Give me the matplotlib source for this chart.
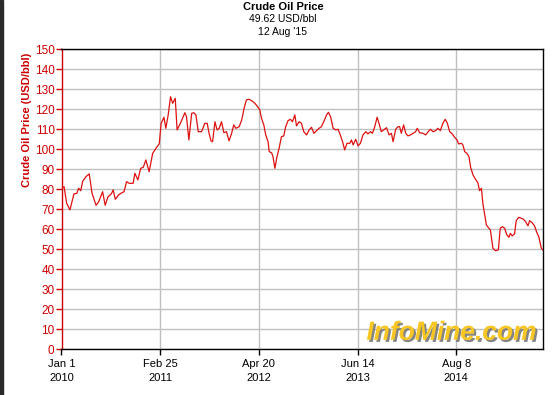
import numpy as np
import pandas as pd
import matplotlib
matplotlib.use("Agg")
import matplotlib.pyplot as plt
import matplotlib.patheffects as pe
from matplotlib.patches import Rectangle

# days since 1 Jan 2010 and price in USD/bbl
days = [0, 11, 22, 36, 53, 65, 73, 82, 90, 104, 118, 130, 147, 158, 175, 186, 198, 212, 220, 229,
        243, 257, 266, 277, 288, 305, 312, 325, 337, 348, 359, 373, 388, 405, 416, 424, 436, 444, 454, 464,
        473, 484, 492, 504, 515, 525, 532, 542, 554, 563, 572, 582, 596, 610, 620, 628, 636, 643, 653, 662,
        671, 681, 691, 702, 713, 724, 733, 742, 756, 767, 777, 787, 798, 809, 823, 832, 844, 851, 861, 869,
        879, 884, 894, 900, 908, 917, 926, 936, 946, 954, 964, 974, 983, 993, 1000, 1011, 1021, 1031, 1043, 1054,
        1064, 1074, 1085, 1096, 1106, 1116, 1128, 1136, 1145, 1156, 1167, 1177, 1184, 1196, 1205, 1215, 1227, 1234, 1241, 1252,
        1262, 1272, 1283, 1295, 1304, 1315, 1323, 1333, 1343, 1351, 1361, 1371, 1383, 1394, 1404, 1411, 1422, 1432, 1439, 1446,
        1456, 1465, 1474, 1485, 1496, 1507, 1514, 1524, 1538, 1550, 1560, 1570, 1581, 1592, 1602, 1612, 1623, 1633, 1642, 1652,
        1663, 1673, 1683, 1690, 1702, 1708, 1716, 1725, 1734, 1741, 1751, 1762, 1772, 1779, 1787, 1793, 1808, 1819, 1825, 1836,
        1847, 1859, 1867, 1876, 1886, 1895, 1904, 1910, 1918, 1928, 1935, 1946, 1957, 1966, 1975, 1985, 1992, 2003, 2013, 2023,
        2031, 2042, 2049]
price = [80.5, 81.3, 73.0, 69.7, 77.7, 78.0, 80.5, 79.3, 84.0, 86.3, 87.7, 78.0, 72.0, 73.7, 78.8, 72.0, 76.3, 77.7, 79.7, 75.0,
         77.2, 78.3, 78.8, 83.8, 83.0, 83.0, 88.0, 84.7, 90.5, 91.0, 94.7, 88.8, 98.0, 101.0, 102.7, 113.0, 116.0, 110.5, 117.2, 126.3,
         123.0, 125.5, 109.7, 112.5, 115.5, 118.3, 116.3, 104.7, 118.0, 118.3, 117.2, 108.8, 108.8, 113.0, 113.0, 108.0, 104.2, 103.8, 113.8, 109.7,
         110.5, 113.8, 108.3, 108.8, 104.2, 108.0, 112.2, 110.5, 111.3, 114.7, 120.5, 124.7, 125.0, 124.3, 123.0, 121.7, 119.7, 115.5, 112.2, 107.2,
         103.8, 98.8, 98.3, 96.3, 90.5, 96.3, 100.5, 106.3, 106.7, 111.3, 114.3, 115.0, 113.8, 117.2, 111.7, 113.8, 113.0, 108.8, 107.2, 109.7,
         111.0, 108.0, 109.3, 110.5, 111.3, 113.8, 117.2, 118.5, 116.3, 110.5, 109.7, 110.0, 108.0, 103.8, 99.7, 103.0, 103.0, 104.7, 102.2, 105.0,
         101.7, 103.0, 107.2, 108.8, 107.7, 108.8, 108.0, 111.3, 116.0, 113.0, 108.8, 109.7, 110.8, 107.2, 108.0, 103.8, 110.0, 111.3, 111.3, 108.0,
         112.2, 108.0, 106.7, 107.2, 108.0, 108.8, 110.5, 108.3, 108.0, 107.2, 108.8, 110.0, 108.8, 109.3, 110.5, 109.3, 113.0, 115.0, 113.0, 108.8,
         107.7, 106.0, 104.7, 102.7, 103.0, 102.2, 98.8, 98.0, 96.3, 91.0, 87.2, 85.0, 83.3, 79.3, 80.5, 73.0, 62.2, 60.5, 59.7, 50.5,
         49.3, 49.7, 60.5, 61.3, 60.5, 57.2, 56.0, 58.0, 56.7, 57.7, 64.3, 66.0, 65.5, 65.0, 63.8, 61.7, 64.3, 63.3, 61.7, 58.3,
         56.3, 50.5, 49.62]

tick_dates = ["2010-01-01", "2011-02-25", "2012-04-20", "2013-06-14", "2014-08-08"]
tick_labels = ["Jan 1\n2010", "Feb 25\n2011", "Apr 20\n2012", "Jun 14\n2013", "Aug 8\n2014"]
title_lines = ["Crude Oil Price", "49.62 USD/bbl", "12 Aug '15"]

start = pd.Timestamp("2010-01-01")
end = pd.Timestamp("2015-08-12")
dates = start + pd.to_timedelta(days, unit="D")

plt.rcParams["font.family"] = ["Liberation Sans", "DejaVu Sans"]
red = "#cc0000"

fig = plt.figure(figsize=(5.6, 3.95), dpi=100)
ax = fig.add_axes([61.5 / 560, 1 - 349.3 / 395, (543 - 61.5) / 560, 300 / 395])

ax.plot(dates, price, color="#dd1111", lw=0.9, zorder=3)

ax.set_xlim(start, end)
ax.set_ylim(0, 150)
ax.set_yticks(np.arange(0, 151, 10))
ax.set_xticks(pd.to_datetime(tick_dates))
ax.set_xticklabels(tick_labels)
ax.grid(True, color="#c0c0c0", lw=1.0, zorder=0)

ax.tick_params(axis="y", colors=red, labelsize=8.5, length=4, width=1, pad=1)
ax.tick_params(axis="x", colors="black", labelsize=8, length=4, width=1, pad=3)
for lbl in ax.get_xticklabels():
    lbl.set_linespacing(1.45)
ax.spines["left"].set_color(red)
for s in ["top", "right", "bottom"]:
    ax.spines[s].set_color("black")
for s in ax.spines.values():
    s.set_linewidth(1.0)

fig.text(27 / 560, 1 - 120 / 395, "Crude Oil Price (USD/bbl)", rotation=90,
         color=red, fontsize=8, fontweight="bold", ha="center", va="center")

fig.text(283 / 560, 1 - 6.5 / 395, title_lines[0], fontsize=8, fontweight="bold",
         ha="center", va="center")
fig.text(283 / 560, 1 - 19.5 / 395, title_lines[1], fontsize=7.5, ha="center", va="center")
fig.text(283 / 560, 1 - 32 / 395, title_lines[2], fontsize=7.5, ha="center", va="center")

# watermark
ax.text(0.81, 0.055, "InfoMine.com", transform=ax.transAxes, fontsize=19,
        fontweight="bold", style="italic", color="#f7c623", ha="center", va="center",
        zorder=4, path_effects=[pe.withSimplePatchShadow(offset=(1.5, -1.5),
                                                         shadow_rgbFace="#777777", alpha=0.9)])

fig.patches.append(Rectangle((0, 0), 2.5 / 560, 1, transform=fig.transFigure,
                             color="#2a2a2a", zorder=0))

fig.savefig("out.png", dpi=100)
